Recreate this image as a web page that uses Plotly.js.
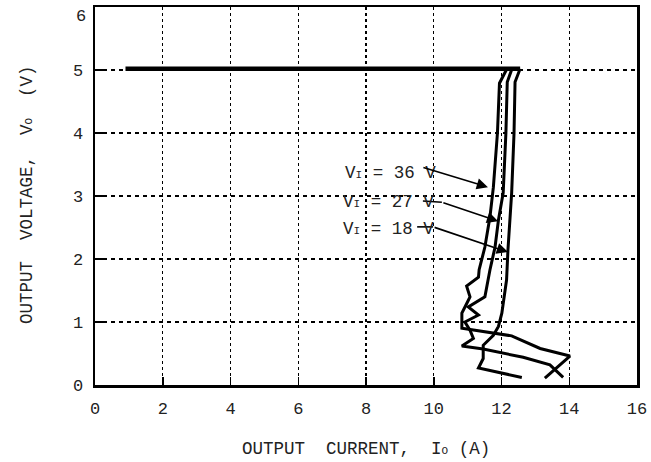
<!DOCTYPE html>
<html>
<head>
<meta charset="utf-8">
<script src="https://cdn.plot.ly/plotly-3.0.1.min.js"></script>
<style>html,body{margin:0;padding:0;background:#fff;}#chart{width:651px;height:462px;}</style>
</head>
<body>
<div id="chart"></div>
<script>
// ---- data ----
const xTicks = [0, 2, 4, 6, 8, 10, 12, 14, 16];
const yTicks = [0, 1, 2, 3, 4, 5, 6];
const yTickText = ['0', '1', '2', '3', '4', '5', ''];   // "6" is drawn slightly lower, as in the reference
const topTickLabel = '6';

// common regulated plateau at Vo = 5 V
const plateauCurrent = [0.9, 12.55];
const plateauVoltage = [5.02, 5.02];

// VI = 36 V
const current36 = [12.16, 11.94, 11.88, 11.76, 11.66, 11.51, 11.34, 11.32, 10.97, 11.07, 10.97, 10.83, 10.83, 11.91, 12.30, 13.14, 14.02, 13.28];
const voltage36 = [5.02, 4.79, 4.00, 3.14, 2.67, 2.19, 1.83, 1.71, 1.57, 1.40, 1.29, 1.14, 0.90, 0.82, 0.78, 0.58, 0.46, 0.11];

// VI = 27 V
const current27 = [12.31, 12.17, 12.13, 12.05, 11.91, 11.81, 11.66, 11.51, 11.02, 11.32, 10.92, 11.07, 11.17, 10.83, 11.46, 12.64, 13.43, 13.82];
const voltage27 = [5.02, 4.81, 4.00, 3.05, 2.62, 2.19, 1.83, 1.40, 1.24, 1.11, 1.00, 0.87, 0.74, 0.62, 0.57, 0.44, 0.32, 0.12];

// VI = 18 V
const current18 = [12.55, 12.40, 12.37, 12.30, 12.19, 12.15, 12.01, 11.91, 11.76, 11.46, 11.46, 11.32, 12.60];
const voltage18 = [5.02, 4.81, 4.00, 3.05, 2.14, 1.67, 1.14, 0.93, 0.79, 0.63, 0.42, 0.27, 0.12];

// curve labels
const labelVi = ['36', '27', '18'];
const labelX = [10.12, 10.06, 10.06];
const labelY = [3.37, 2.91, 2.48];
// leader line: start, bend, arrow head
const leaderStartX = [9.65, 9.68, 9.51];
const leaderStartY = [3.46, 2.92, 2.51];
const leaderBendX  = [9.65, 10.24, 9.98];
const leaderBendY  = [3.46, 2.90, 2.51];
const arrowHeadX   = [11.60, 11.90, 12.19];
const arrowHeadY   = [3.14, 2.60, 2.11];

// ---- chart ----
const FONT = 'Courier New, Liberation Mono, monospace';
const TXT = '#222';

const curveLine = {color: '#000', width: 3};
const traces = [
  {x: plateauCurrent, y: plateauVoltage, mode: 'lines', line: {color: '#000', width: 4.5}, hoverinfo: 'skip'},
  {x: current36, y: voltage36, mode: 'lines', line: curveLine, hoverinfo: 'skip'},
  {x: current27, y: voltage27, mode: 'lines', line: curveLine, hoverinfo: 'skip'},
  {x: current18, y: voltage18, mode: 'lines', line: curveLine, hoverinfo: 'skip'}
];

const annotations = [];
const shapes = [];
for (let i = 0; i < labelVi.length; i++) {
  annotations.push({
    xref: 'x', yref: 'y', x: labelX[i], y: labelY[i],
    xanchor: 'right', yanchor: 'middle', showarrow: false,
    text: 'V<span style="font-size:11px">I</span> = ' + labelVi[i] + ' V',
    font: {family: FONT, size: 17.5, color: TXT}
  });
  if (leaderBendX[i] !== leaderStartX[i]) {
    shapes.push({type: 'line', xref: 'x', yref: 'y',
      x0: leaderStartX[i], y0: leaderStartY[i], x1: leaderBendX[i], y1: leaderBendY[i],
      line: {color: '#000', width: 1.6}});
  }
  annotations.push({
    xref: 'x', yref: 'y', axref: 'x', ayref: 'y',
    x: arrowHeadX[i], y: arrowHeadY[i], ax: leaderBendX[i], ay: leaderBendY[i],
    text: '', showarrow: true, arrowhead: 2, arrowsize: 1.4, arrowwidth: 1.6, arrowcolor: '#000'
  });
}
// top y tick label
annotations.push({
  xref: 'paper', yref: 'paper', x: -0.0125, y: 0.974, xanchor: 'right', yanchor: 'middle',
  showarrow: false, text: topTickLabel,
  font: {family: FONT, size: 17, color: TXT}
});
// axis titles
annotations.push({
  xref: 'paper', yref: 'paper', x: 0.5, y: -0.17, xanchor: 'center', yanchor: 'middle',
  showarrow: false,
  text: 'OUTPUT  CURRENT,  I<span style="font-size:11px">O</span> (A)',
  font: {family: FONT, size: 17.5, color: TXT}
});
annotations.push({
  xref: 'paper', yref: 'paper', x: -0.1255, y: 0.505, xanchor: 'center', yanchor: 'middle',
  showarrow: false, textangle: -90,
  text: 'OUTPUT  VOLTAGE,  V<span style="font-size:11px">O</span>  (V)',
  font: {family: FONT, size: 17.5, color: TXT}
});

const axisCommon = {
  ticks: 'inside', ticklen: 8, tickwidth: 1.5, tickcolor: '#000',
  showline: true, linecolor: '#000', linewidth: 2.5, mirror: true,
  showgrid: true, gridcolor: '#000', gridwidth: 1.3,
  zeroline: false, fixedrange: true,
  tickfont: {family: FONT, size: 17, color: TXT}
};

const layout = {
  width: 651, height: 462,
  margin: {l: 95, r: 14, t: 7, b: 77},
  paper_bgcolor: '#fff', plot_bgcolor: '#fff',
  showlegend: false,
  xaxis: Object.assign({}, axisCommon, {range: [0, 16], tickvals: xTicks, griddash: '3px,3px', ticklabelstandoff: 6}),
  yaxis: Object.assign({}, axisCommon, {range: [0, 6], tickvals: yTicks, ticktext: yTickText, griddash: '4px,4px', ticklabelstandoff: 6}),
  annotations: annotations,
  shapes: shapes
};

Plotly.newPlot('chart', traces, layout, {displayModeBar: false, staticPlot: true});
</script>
</body>
</html>
